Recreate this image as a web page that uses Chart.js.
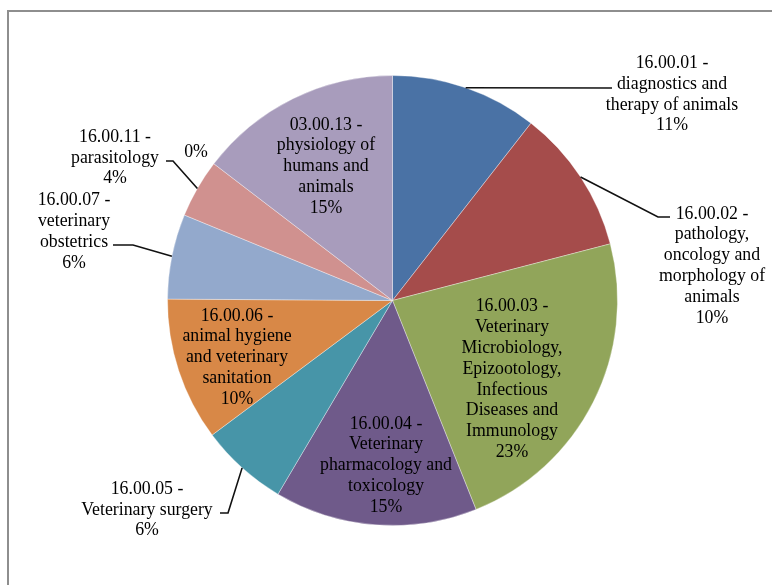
<!DOCTYPE html>
<html>
<head>
<meta charset="utf-8">
<script src="https://cdn.jsdelivr.net/npm/chart.js@4.4.1/dist/chart.umd.min.js"></script>
<style>
    body { margin: 0; background: #fff; }
    #wrap { position: relative; width: 772px; height: 585px; }
    #frame { position: absolute; left: 7px; top: 10px; right: 0; bottom: 0;
             border-top: 2px solid #8e8e8e; border-left: 2px solid #8e8e8e; }
    #chart1 { position: absolute; left: 0; top: 0; }
</style>
</head>
<body>
<div id="wrap">
    <div id="frame"></div>
    <canvas id="chart1" width="772" height="585"></canvas>
</div>
<script>
// slices, clockwise from 12 o'clock
const categories = [
    ['16.00.01 -', 'diagnostics and', 'therapy of animals'],
    ['16.00.02 -', 'pathology,', 'oncology and', 'morphology of', 'animals'],
    ['16.00.03 -', 'Veterinary', 'Microbiology,', 'Epizootology,', 'Infectious', 'Diseases and', 'Immunology'],
    ['16.00.04 -', 'Veterinary', 'pharmacology and', 'toxicology'],
    ['16.00.05 -', 'Veterinary surgery'],
    ['16.00.06 -', 'animal hygiene', 'and veterinary', 'sanitation'],
    ['16.00.07 -', 'veterinary', 'obstetrics'],
    ['16.00.11 -', 'parasitology'],
    [],
    ['03.00.13 -', 'physiology of', 'humans and', 'animals']
];
const shares = [10.55, 10.4, 23.0, 14.55, 6.3, 10.3, 6.1, 4.2, 0, 14.6];
const colors = ['#4A72A5', '#A54C4B', '#91A55A', '#6F5A8A', '#4795A8',
                '#D88847', '#93A9CC', '#D0918F', '#A6B8D8', '#A89CBC'];

// label centre and leader path, px from pie centre at radius 225
const placement = [
    { at: [279.5, -206], lead: [[219.5, -212.5]] },
    { at: [319.5, -34.5], lead: [[265.5, -83.5], [277.5, -83.5]] },
    { at: [119.5, 79] },
    { at: [-6.5, 165] },
    { at: [-245.5, 209.5], lead: [[-164.5, 212.5], [-172.5, 212.5]] },
    { at: [-155.5, 57] },
    { at: [-318.5, -68.5], lead: [[-259.5, -55.5], [-279.5, -55.5]] },
    { at: [-277.5, -142.5], lead: [[-219.5, -139.5], [-226.5, -139.5]] },
    { at: [-196.5, -148] },
    { at: [-66.5, -134] }
];
const lineH = 20.8;

const pieLabels = {
    id: 'pieLabels',
    afterDatasetsDraw(chart) {
        const ctx = chart.ctx;
        const arcs = chart.getDatasetMeta(0).data;
        const total = shares.reduce((a, b) => a + b, 0);
        ctx.save();
        ctx.font = '17.8px "Liberation Serif", "Times New Roman", serif';
        ctx.fillStyle = '#000';
        ctx.strokeStyle = '#111';
        ctx.lineWidth = 1.6;
        ctx.textAlign = 'center';
        ctx.textBaseline = 'middle';
        arcs.forEach((arc, i) => {
            const { x, y, startAngle, endAngle, outerRadius } =
                arc.getProps(['x', 'y', 'startAngle', 'endAngle', 'outerRadius'], true);
            const k = outerRadius / 225;
            const place = placement[i];
            if (place.lead) {
                const mid = (startAngle + endAngle) / 2;
                ctx.beginPath();
                ctx.moveTo(x + Math.cos(mid) * outerRadius, y + Math.sin(mid) * outerRadius);
                place.lead.forEach(p => ctx.lineTo(x + p[0] * k, y + p[1] * k));
                ctx.stroke();
            }
            const lines = categories[i].concat(Math.round(shares[i] / total * 100) + '%');
            const cx = x + place.at[0] * k;
            const cy = y + place.at[1] * k;
            lines.forEach((t, j) => {
                ctx.fillText(t, cx, cy + (j - (lines.length - 1) / 2) * lineH);
            });
        });
        ctx.restore();
    }
};

const chart1 = new Chart(document.querySelector('#chart1'), {
    type: 'pie',
    data: {
        labels: categories,
        datasets: [{
            data: shares,
            backgroundColor: colors,
            borderColor: 'rgba(255,255,255,0.35)',
            borderWidth: 1
        }]
    },
    options: {
        responsive: false,
        animation: false,
        layout: {
            padding: { left: 167, top: 75, right: 154, bottom: 59 }
        },
        plugins: {
            legend: { display: false },
            tooltip: { enabled: false }
        }
    },
    plugins: [pieLabels]
});
</script>
</body>
</html>
